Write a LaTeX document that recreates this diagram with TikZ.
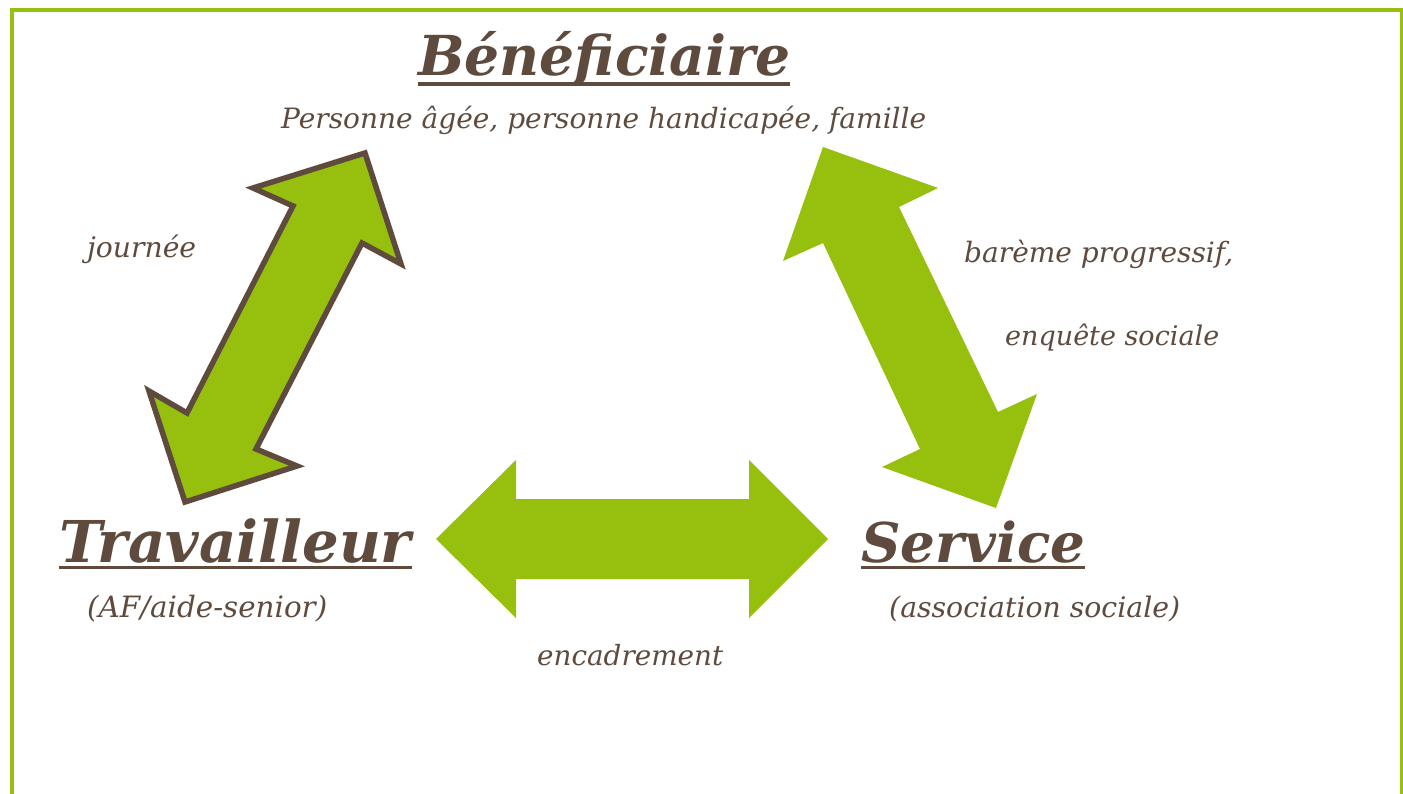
\documentclass[tikz,border=0pt]{standalone}
\usepackage{fontspec}
\setmainfont{DejaVu Serif}
\definecolor{leaf}{HTML}{97BF0D}
\definecolor{bark}{HTML}{5F4B3E}
\newcommand{\fitw}[2]{\resizebox{#1}{!}{#2}}
\begin{document}
\begin{tikzpicture}[x=1pt,y=-1pt,
  title/.style={font=\bfseries\itshape, text=bark, inner sep=0pt, anchor=base west},
  lbl/.style={font=\itshape, text=bark, inner sep=0pt, anchor=base west},
  uline/.style={draw=bark, line width=3.8pt},
  greenarrow/.style={fill=leaf, draw=none},
  outlinedarrow/.style={fill=leaf, draw=bark, line width=5.5pt, line join=miter},
  frame/.style={draw=leaf, line width=4pt}]
\useasboundingbox (0,0) rectangle (1403,793);
\clip (0,0) rectangle (1403,793);
\fill[white] (0,0) rectangle (1403,793);
% frame
\draw[frame] (12,800) -- (12,10) -- (1402,10) -- (1402,800);
% texts
\node[title] (benef) at (418,75) {\fitw{372pt}{Bénéficiaire}};
\draw[uline] ([yshift=-9pt]benef.base west) -- ([yshift=-9pt]benef.base east);
\node[lbl] (pers) at (281,128) {\fitw{645pt}{Personne âgée, personne handicapée, famille}};
\node[lbl] (journ) at (87,257) {\fitw{109pt}{journée}};
\node[lbl] (bareme) at (964,262) {\fitw{269pt}{barème progressif,}};
\node[lbl] (enq) at (1005,345) {\fitw{214pt}{enquête sociale}};
\node[title] (trav) at (59,562) {\fitw{352pt}{Travailleur}};
\draw[uline] ([yshift=-5.5pt]trav.base west) -- ([yshift=-5.5pt]trav.base east);
\node[lbl] (af) at (87,617) {\fitw{240pt}{(AF/aide-senior)}};
\node[title] (serv) at (861,562) {\fitw{224pt}{Service}};
\draw[uline] ([yshift=-5.5pt]serv.base west) -- ([yshift=-5.5pt]serv.base east);
\node[lbl] (assoc) at (889,617) {\fitw{291pt}{(association sociale)}};
\node[lbl] (encad) at (537,665) {\fitw{186pt}{encadrement}};
% arrows
\draw[outlinedarrow] (365,153) -- (401,264) -- (362,243) -- (256,449) -- (297,466) -- (185,502) -- (149,391) -- (187,413) -- (293,206) -- (253,188) -- cycle;
\fill[greenarrow] (823,147) -- (938,188) -- (899,207) -- (998,412) -- (1037,394) -- (996,508) -- (882,467) -- (920,449) -- (823,243) -- (783,261) -- cycle;
\fill[greenarrow] (436,539) -- (516,460) -- (516,499) -- (749,499) -- (749,460) -- (828,539) -- (749,618) -- (749,579) -- (516,579) -- (516,618) -- cycle;
\end{tikzpicture}
\end{document}
